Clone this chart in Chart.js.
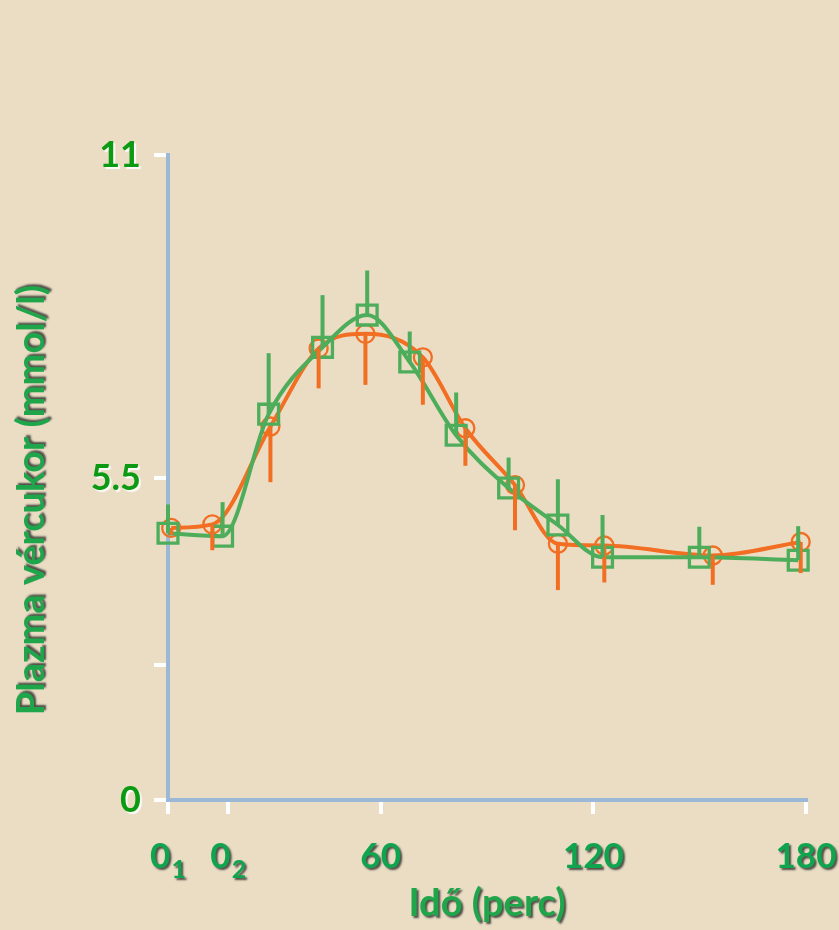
<!DOCTYPE html>
<html>
<head>
<meta charset="utf-8">
<title>Plazma vércukor</title>
<script src="https://cdn.jsdelivr.net/npm/chart.js@4/dist/chart.umd.min.js"></script>
<style>
  html, body { margin: 0; padding: 0; background: #EADDC4; }
  #wrap { width: 839px; height: 930px; position: relative; }
</style>
</head>
<body>
<div id="wrap"><canvas id="c" width="839" height="930"></canvas></div>
<script>
// Sampling times (minutes)
const orangeTimes = [0.9, 12.5, 28.9, 42.5, 55.7, 71.9, 83.9, 97.9, 110.0, 123.1, 153.7, 178.5];
const greenTimes  = [0, 15.4, 28.4, 43.6, 56.2, 68.2, 81.3, 96.1, 110.0, 122.6, 149.9, 177.8];

// Plasma glucose (mmol/l)
const orangeGlucose = [4.64, 4.70, 6.37, 7.70, 7.95, 7.55, 6.34, 5.37, 4.37, 4.34, 4.17, 4.40];
const greenGlucose  = [4.55, 4.50, 6.58, 7.72, 8.27, 7.47, 6.22, 5.32, 4.69, 4.14, 4.14, 4.09];

// Error bar lengths (orange drawn downward, green upward)
const orangeError = [0.12, 0.44, 0.95, 0.68, 0.87, 0.81, 0.64, 0.77, 0.79, 0.63, 0.50, 0.53];
const greenError  = [0.49, 0.58, 1.04, 0.89, 0.76, 0.52, 0.73, 0.52, 0.78, 0.72, 0.52, 0.58];

// Axis ticks
const xTickValues = [0, 17, 60, 120, 180];
const xTickMain   = ['0', '0', '60', '120', '180'];
const xTickSub    = ['1', '2', '', '', ''];
const yTickValues = [0, 2.3, 5.5, 11];
const yTickLabels = ['0', '', '5.5', '11'];

const xTitle = 'Idő (perc)';
const yTitle = 'Plazma vércukor (mmol/l)';

const ORANGE = '#F26E22';
const GREEN  = '#4DAD5B';
const FONT   = 'Lato, "Open Sans", "Noto Sans", sans-serif';

function toPoints(xs, ys) { return xs.map((x, i) => ({ x: x, y: ys[i] })); }

const errorBars = {
  id: 'errorBars',
  afterDatasetsDraw(chart) {
    const { ctx, scales: { y } } = chart;
    const specs = [
      { index: 1, err: orangeError, dir: -1, color: ORANGE },
      { index: 0, err: greenError,  dir: 1,  color: GREEN }
    ];
    ctx.save();
    ctx.lineWidth = 4;
    ctx.lineCap = 'butt';
    specs.forEach(s => {
      const ds = chart.data.datasets[s.index];
      const meta = chart.getDatasetMeta(s.index);
      ctx.strokeStyle = s.color;
      meta.data.forEach((pt, i) => {
        const v = ds.data[i].y;
        const end = y.getPixelForValue(v + s.dir * s.err[i]);
        ctx.beginPath();
        ctx.moveTo(pt.x, pt.y);
        ctx.lineTo(pt.x, end);
        ctx.stroke();
      });
    });
    ctx.restore();
  }
};

function shadowText(ctx, text, x, y, color, shadow, dx, dy, blur) {
  ctx.save();
  ctx.shadowColor = shadow;
  ctx.shadowOffsetX = dx;
  ctx.shadowOffsetY = dy;
  ctx.shadowBlur = blur;
  ctx.fillStyle = color;
  ctx.fillText(text, x, y);
  ctx.restore();
}

const slideText = {
  id: 'slideText',
  afterDraw(chart) {
    const { ctx, chartArea, scales: { x, y } } = chart;
    ctx.save();
    ctx.textBaseline = 'alphabetic';

    // value axis labels
    ctx.font = 'bold 36px ' + FONT;
    ctx.textAlign = 'right';
    yTickValues.forEach((v, i) => {
      if (!yTickLabels[i]) return;
      const py = y.getPixelForValue(v);
      shadowText(ctx, yTickLabels[i], chartArea.left - 27, py + 12,
        '#0B9A12', 'rgba(255,255,255,0.9)', 2, 2, 1);
    });

    // time axis labels, with subscripts for the two baseline samples
    const base = chartArea.bottom + 68;
    ctx.textAlign = 'left';
    xTickValues.forEach((v, i) => {
      const px = x.getPixelForValue(v);
      ctx.font = 'bold 35px ' + FONT;
      const wMain = ctx.measureText(xTickMain[i]).width;
      ctx.font = 'bold 25px ' + FONT;
      const wSub = xTickSub[i] ? ctx.measureText(xTickSub[i]).width + 1 : 0;
      const start = px - (wMain + wSub) / 2;
      ctx.font = 'bold 35px ' + FONT;
      shadowText(ctx, xTickMain[i], start, base, '#0FA54E', 'rgba(30,30,30,0.75)', 2, 2, 2);
      if (xTickSub[i]) {
        ctx.font = 'bold 25px ' + FONT;
        shadowText(ctx, xTickSub[i], start + wMain + 1, base + 10, '#0FA54E', 'rgba(30,30,30,0.75)', 2, 2, 2);
      }
    });

    // axis titles
    ctx.font = 'bold 38px ' + FONT;
    ctx.textAlign = 'center';
    shadowText(ctx, xTitle, (chartArea.left + chartArea.right) / 2, 916,
      '#1FA64B', 'rgba(30,30,30,0.75)', 2, 2, 2);

    ctx.save();
    ctx.translate(44, 500);
    ctx.rotate(-Math.PI / 2);
    ctx.font = 'bold 38px ' + FONT;
    shadowText(ctx, yTitle, 0, 0, '#1FA64B', 'rgba(30,30,30,0.75)', 2, -2, 2);
    ctx.restore();

    ctx.restore();
  }
};

const axisBase = {
  type: 'linear',
  border: { display: true, color: '#9BB8D6', width: 4 },
  grid: { drawOnChartArea: false, drawTicks: true, tickLength: 14, tickWidth: 4, tickColor: '#FFFFFF', lineWidth: 4, color: '#FFFFFF' },
  ticks: { display: false }
};

new Chart(document.getElementById('c'), {
  type: 'line',
  data: {
    datasets: [
      {
        label: 'green',
        data: toPoints(greenTimes, greenGlucose),
        borderColor: GREEN,
        borderWidth: 4,
        cubicInterpolationMode: 'monotone',
        fill: false,
        clip: false,
        pointStyle: 'rect',
        pointRadius: 14,
        pointBorderWidth: 3.3,
        pointBorderColor: GREEN,
        pointBackgroundColor: 'rgba(0,0,0,0)'
      },
      {
        label: 'orange',
        data: toPoints(orangeTimes, orangeGlucose),
        borderColor: ORANGE,
        borderWidth: 4,
        cubicInterpolationMode: 'monotone',
        fill: false,
        clip: false,
        pointStyle: 'circle',
        pointRadius: 9,
        pointBorderWidth: 2.3,
        pointBorderColor: ORANGE,
        pointBackgroundColor: 'rgba(0,0,0,0)'
      }
    ]
  },
  options: {
    responsive: false,
    animation: false,
    devicePixelRatio: 1,
    layout: { padding: { left: 154, right: 33, top: 155, bottom: 116 } },
    plugins: { legend: { display: false }, tooltip: { enabled: false } },
    scales: {
      x: Object.assign({}, axisBase, {
        min: 0, max: 180,
        afterBuildTicks: s => { s.ticks = xTickValues.map(v => ({ value: v })); }
      }),
      y: Object.assign({}, axisBase, {
        min: 0, max: 11,
        afterBuildTicks: s => { s.ticks = yTickValues.map(v => ({ value: v })); }
      })
    }
  },
  plugins: [errorBars, slideText]
});
</script>
</body>
</html>
